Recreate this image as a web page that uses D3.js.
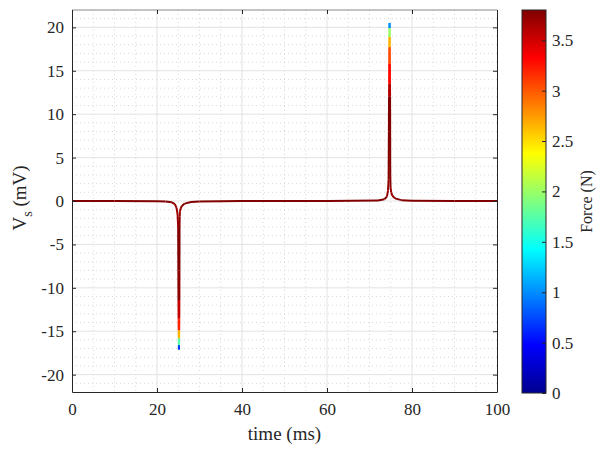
<!DOCTYPE html>
<html>
<head>
<meta charset="utf-8">
<script src="https://cdn.jsdelivr.net/npm/d3@7"></script>
<style>
  body { margin: 0; background: #fff; }
  svg text { font-family: "Liberation Serif", "Times New Roman", serif !important; fill: #262626; }
</style>
</head>
<body>
<div id="chart"></div>
<script>
// signal samples: time (ms), voltage (mV), force (N)
const timeMs = [0, 10, 20, 22, 23.5, 24.2, 24.6, 24.85, 24.98, 25.02, 25.05, 25.08, 25.1, 25.12, 25.14, 25.16,
  25.18, 25.2, 25.22, 25.24, 25.26, 25.28, 25.3, 25.34, 25.4, 25.55, 25.8, 26.5, 28, 30, 40, 60,
  72, 73.5, 74.1, 74.35, 74.5, 74.56, 74.6, 74.62, 74.64, 74.66, 74.68, 74.7, 74.72,
  74.74, 74.76, 74.78, 74.8, 74.82, 74.84, 74.88, 74.95, 75.1, 75.4, 76, 77.5, 80, 90, 100];
const voltage = [0, 0, -0.02, -0.05, -0.15, -0.35, -0.8, -1.6, -3, -8, -11.4, -13.5, -14.9, -15.8, -16.6, -17.1,
  -16.6, -15.8, -14.9, -13.5, -11.4, -8, -3, -1.8, -1.2, -0.9, -0.6, -0.3, -0.12, -0.05, 0, 0,
  0.05, 0.2, 0.5, 1.2, 2.5, 8, 12, 13.5, 15.8, 17.7, 18.9, 19.9, 20.5,
  19.9, 18.9, 17.7, 15.8, 13.5, 12, 3, 1.6, 1.0, 0.6, 0.3, 0.1, 0.03, 0, 0];
const force = [3.8, 3.8, 3.8, 3.8, 3.78, 3.75, 3.7, 3.65, 3.75, 3.8, 3.7, 3.4, 3.0, 2.3, 1.2, 0.2,
  1.2, 2.3, 3.0, 3.4, 3.7, 3.8, 3.8, 3.7, 3.7, 3.72, 3.75, 3.78, 3.8, 3.8, 3.8, 3.8,
  3.8, 3.8, 3.75, 3.7, 3.75, 3.8, 3.8, 3.4, 3.2, 2.9, 2.4, 1.6, 0.4,
  1.6, 2.4, 2.9, 3.2, 3.4, 3.8, 3.8, 3.75, 3.7, 3.72, 3.75, 3.8, 3.8, 3.8, 3.8];

const xTicks = [0, 20, 40, 60, 80, 100];
const yTicks = [-20, -15, -10, -5, 0, 5, 10, 15, 20];
const cTicks = [0, 0.5, 1, 1.5, 2, 2.5, 3, 3.5];

const width = 610, height = 449;
const plot = { left: 72, right: 497, top: 10, bottom: 392 };
const cbar = { left: 522, right: 546, top: 10, bottom: 393 };
const axisColor = "#262626";
const serif = "Liberation Serif";

const svg = d3.select("#chart").append("svg")
  .attr("width", width).attr("height", height);

const x = d3.scaleLinear().domain([0, 100]).range([plot.left, plot.right]);
const y = d3.scaleLinear().domain([-22, 22]).range([plot.bottom, plot.top]);
const fMax = 3.8;
const c = d3.scaleLinear().domain([0, fMax]).range([cbar.bottom, cbar.top]);

// jet colormap
const jetStops = ["#00008f", "#0000ff", "#00ffff", "#ffff00", "#ff0000", "#800000"];
const jetPos = [0, 0.125, 0.375, 0.625, 0.875, 1];
const jet = d3.scaleLinear().domain(jetPos.map(p => p * fMax)).range(jetStops).clamp(true);

const plain = d => String(d);  // hyphen minus like the original

// minor grid
const gMinor = svg.append("g").attr("stroke", "#cfcfcf").attr("stroke-dasharray", "1,3").attr("stroke-width", 0.8);
gMinor.selectAll("line.vx").data(d3.range(5, 100, 5).filter(v => v % 20 !== 0)).enter().append("line")
  .attr("x1", d => x(d)).attr("x2", d => x(d)).attr("y1", plot.top).attr("y2", plot.bottom);
gMinor.selectAll("line.hy").data(d3.range(-21, 22, 1).filter(v => v % 5 !== 0)).enter().append("line")
  .attr("y1", d => y(d)).attr("y2", d => y(d)).attr("x1", plot.left).attr("x2", plot.right);

// major grid
const gMajor = svg.append("g").attr("stroke", "#e3e3e3").attr("stroke-width", 1);
gMajor.selectAll("line.vx").data(xTicks.slice(1, -1)).enter().append("line")
  .attr("x1", d => x(d)).attr("x2", d => x(d)).attr("y1", plot.top).attr("y2", plot.bottom);
gMajor.selectAll("line.hy").data(yTicks).enter().append("line")
  .attr("y1", d => y(d)).attr("y2", d => y(d)).attr("x1", plot.left).attr("x2", plot.right);

// signal, coloured by force
const pts = timeMs.map((t, i) => ({ t, v: voltage[i], f: force[i] }));
const segs = d3.pairs(pts);
svg.append("g").selectAll("line").data(segs).enter().append("line")
  .attr("x1", d => x(d[0].t)).attr("y1", d => y(d[0].v))
  .attr("x2", d => x(d[1].t)).attr("y2", d => y(d[1].v))
  .attr("stroke", d => jet((d[0].f + d[1].f) / 2))
  .attr("stroke-width", 2).attr("stroke-linecap", "butt");

// frame
svg.append("line").attr("x1", plot.left).attr("x2", plot.right).attr("y1", plot.top).attr("y2", plot.top)
  .attr("stroke", "#8a8a8a").attr("stroke-width", 1.2);

const xAxis = svg.append("g").attr("transform", `translate(0,${plot.bottom})`)
  .call(d3.axisBottom(x).tickValues(xTicks).tickSizeInner(-4).tickSizeOuter(0).tickPadding(11).tickFormat(plain));
const xTop = svg.append("g").attr("transform", `translate(0,${plot.top})`)
  .call(d3.axisTop(x).tickValues(xTicks).tickSizeInner(-4).tickSizeOuter(0).tickFormat(""));
xTop.select(".domain").remove();
const yAxis = svg.append("g").attr("transform", `translate(${plot.left},0)`)
  .call(d3.axisLeft(y).tickValues(yTicks).tickSizeInner(-4).tickSizeOuter(0).tickPadding(8).tickFormat(plain));
const yRight = svg.append("g").attr("transform", `translate(${plot.right},0)`)
  .call(d3.axisRight(y).tickValues(yTicks).tickSizeInner(-4).tickSizeOuter(0).tickFormat(""));

[xAxis, xTop, yAxis, yRight].forEach(g => {
  g.attr("font-family", serif).attr("font-size", 17);
  g.selectAll("path, line").attr("stroke", axisColor);
  g.selectAll("text").attr("fill", axisColor);
});

svg.append("text").attr("x", (plot.left + plot.right) / 2).attr("y", 440)
  .attr("text-anchor", "middle").attr("font-family", serif).attr("font-size", 19).text("time (ms)");

const yl = svg.append("text").attr("transform", `translate(26,${y(0) - 3}) rotate(-90)`)
  .attr("text-anchor", "middle").attr("font-family", serif).attr("font-size", 19);
yl.append("tspan").text("V");
yl.append("tspan").attr("dy", 6).attr("font-size", 14).text("s");
yl.append("tspan").attr("dy", -6).text(" (mV)");

// colorbar
const defs = svg.append("defs");
const grad = defs.append("linearGradient").attr("id", "jet").attr("x1", 0).attr("x2", 0).attr("y1", 1).attr("y2", 0);
grad.selectAll("stop").data(jetPos).enter().append("stop")
  .attr("offset", d => d).attr("stop-color", (d, i) => jetStops[i]);
svg.append("rect").attr("x", cbar.left).attr("y", cbar.top)
  .attr("width", cbar.right - cbar.left).attr("height", cbar.bottom - cbar.top)
  .attr("fill", "url(#jet)").attr("stroke", axisColor).attr("stroke-width", 1);

const cAxis = svg.append("g").attr("transform", `translate(${cbar.right},0)`)
  .call(d3.axisRight(c).tickValues(cTicks).tickSizeInner(-4).tickSizeOuter(0).tickPadding(6).tickFormat(plain));
cAxis.select(".domain").remove();
cAxis.attr("font-family", serif).attr("font-size", 17);
cAxis.selectAll("line").attr("stroke", axisColor);
cAxis.selectAll("text").attr("fill", axisColor);

svg.append("text").attr("transform", `translate(592,${(cbar.top + cbar.bottom) / 2}) rotate(-90)`)
  .attr("text-anchor", "middle").attr("font-family", serif).attr("font-size", 16).text("Force (N)");
</script>
</body>
</html>
